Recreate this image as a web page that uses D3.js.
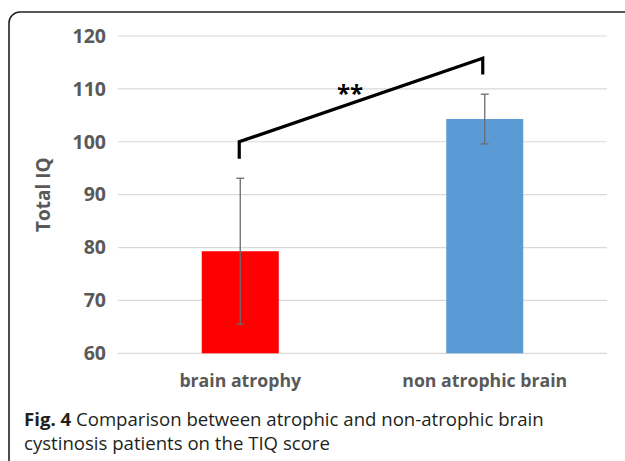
<!DOCTYPE html>
<html><head><meta charset="utf-8">
<script src="https://cdn.jsdelivr.net/npm/d3@7"></script>
<style>body{margin:0;background:#fff}svg{display:block}</style>
</head><body>
<script>
const categories = ["brain atrophy", "non atrophic brain"];
const means = [79.3, 104.3];
const sds = [13.8, 4.7];
const colors = ["#ff0000", "#5b9bd5"];
const yTicks = [60, 70, 80, 90, 100, 110, 120];
const bracket = {left: 0, right: 1, leftTop: 100, leftBottom: 96.8, rightTop: 115.8, rightBottom: 112.7, label: "**"};

const W = 625, H = 461;
const svg = d3.select("body").append("svg").attr("width", W).attr("height", H);

svg.append("rect").attr("x", 9).attr("y", 12).attr("width", 660).attr("height", 480)
  .attr("rx", 11).attr("fill", "none").attr("stroke", "#222").attr("stroke-width", 1.6);

const x = d3.scaleBand().domain(categories).range([118, 607]).paddingInner(0.685).paddingOuter(0.3425);
const y = d3.scaleLinear().domain([60, 120]).range([353.3, 36]);

const grid = svg.append("g");
grid.selectAll("line").data(yTicks).join("line")
  .attr("x1", 118).attr("x2", 607)
  .attr("y1", d => y(d)).attr("y2", d => y(d))
  .attr("stroke", "#d9d9d9").attr("stroke-width", 1.2);

const yAxis = svg.append("g").attr("transform", "translate(106,0)")
  .call(d3.axisLeft(y).tickValues(yTicks).tickSize(0).tickPadding(0));
yAxis.select(".domain").remove();
yAxis.selectAll("text").attr("fill", "#595959").attr("font-family", "Open Sans")
  .attr("font-weight", "bold").attr("font-size", 19.5);

svg.selectAll("rect.bar").data(categories).join("rect").attr("class", "bar")
  .attr("x", d => x(d)).attr("width", x.bandwidth())
  .attr("y", (d, i) => y(means[i])).attr("height", (d, i) => y(60) - y(means[i]))
  .attr("fill", (d, i) => colors[i]);

const eb = svg.append("g").attr("stroke", "#6b6b6b").attr("stroke-width", 1.3);
categories.forEach((c, i) => {
  const cx = x(c) + x.bandwidth() / 2;
  eb.append("line").attr("x1", cx).attr("x2", cx).attr("y1", y(means[i] + sds[i])).attr("y2", y(means[i] - sds[i]));
  [means[i] + sds[i], means[i] - sds[i]].forEach(v => {
    eb.append("line").attr("x1", cx - 4).attr("x2", cx + 4).attr("y1", y(v)).attr("y2", y(v));
  });
});

const xAxis = svg.append("g").attr("transform", "translate(0,374)")
  .call(d3.axisBottom(x).tickSize(0).tickPadding(0));
xAxis.select(".domain").remove();
xAxis.selectAll("text").attr("fill", "#595959").attr("font-family", "Open Sans")
  .attr("font-weight", "bold").attr("font-size", 17.7).attr("dy", "0.71em");

svg.append("text").attr("transform", `translate(50,${(y(60) + y(120)) / 2}) rotate(-90)`)
  .attr("text-anchor", "middle").attr("fill", "#595959").attr("font-family", "Open Sans")
  .attr("font-weight", "bold").attr("font-size", 19).text("Total IQ");

const bl = x(categories[bracket.left]) + x.bandwidth() / 2 - 1;
const br = x(categories[bracket.right]) + x.bandwidth() / 2 - 2;
svg.append("path")
  .attr("d", d3.line()([[bl, y(bracket.leftBottom)], [bl, y(bracket.leftTop)], [br, y(bracket.rightTop)], [br, y(bracket.rightBottom)]]))
  .attr("fill", "none").attr("stroke", "#000").attr("stroke-width", 3.2).attr("stroke-linejoin", "miter");
svg.append("text").attr("x", 350).attr("y", 102).attr("text-anchor", "middle")
  .attr("font-family", "Open Sans").attr("font-weight", "bold").attr("font-size", 24).attr("fill", "#000").text(bracket.label);

const cap = svg.append("text").attr("font-family", "Open Sans").attr("font-size", 18.6).attr("fill", "#231f20");
const t1 = cap.append("tspan").attr("x", 24).attr("y", 426);
t1.append("tspan").attr("font-weight", "bold").text("Fig. 4");
t1.append("tspan").text(" Comparison between atrophic and non-atrophic brain");
cap.append("tspan").attr("x", 24).attr("y", 450).text("cystinosis patients on the TIQ score");
</script>
</body></html>
